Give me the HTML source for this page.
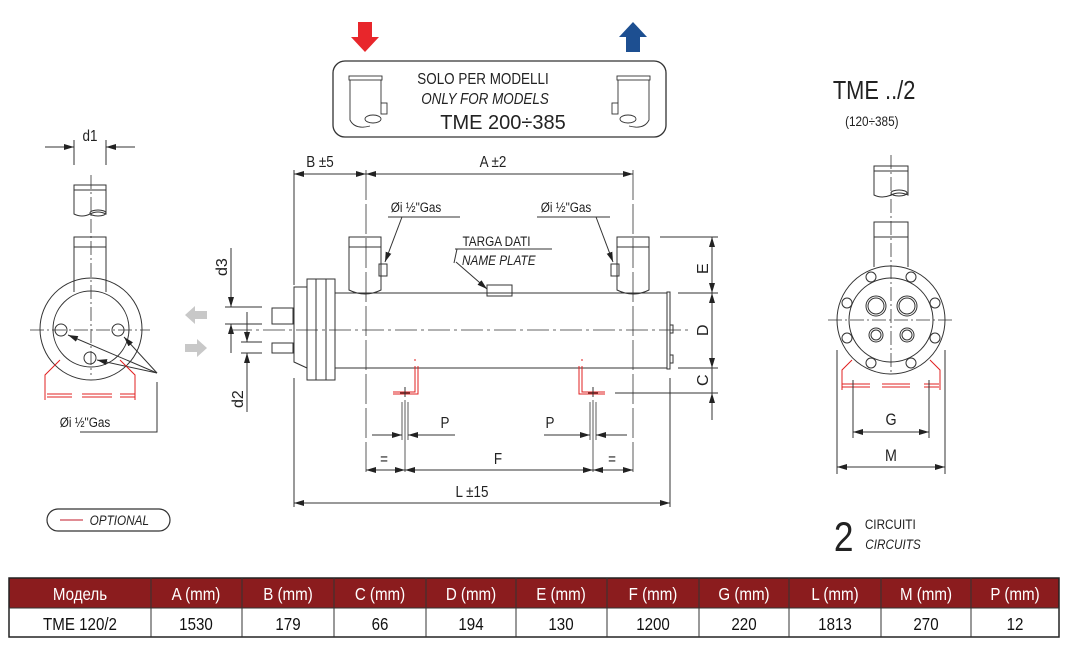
<!DOCTYPE html>
<html><head><meta charset="utf-8"><style>
html,body{margin:0;padding:0;background:#fff;}
svg{display:block;font-family:"Liberation Sans Narrow","Liberation Sans",sans-serif;}
text:not([transform]):not(.w){transform-box:fill-box;transform-origin:center;transform:scaleX(0.84);}
</style></head><body>
<svg width="1071" height="650" viewBox="0 0 1071 650" xmlns="http://www.w3.org/2000/svg">
<defs>
<marker id="ar" viewBox="0 0 10 6" refX="10" refY="3" markerWidth="10" markerHeight="6" orient="auto-start-reverse" markerUnits="userSpaceOnUse"><path d="M0,0 L10,3 L0,6 z" fill="#222"/></marker>
</defs>
<g fill="none" stroke="#333" stroke-width="1">

<path d="M358,22 h14 v15 h7 l-14,15 l-14,-15 h7 z" fill="#e8262b" stroke="none"/>
<path d="M633,22 l14,15 h-7 v15 h-14 v-15 h-7 z" fill="#1d4f91" stroke="none"/>
<rect x="333" y="61" width="333" height="76" rx="12" stroke-width="1.3"/>
<g stroke-width="0.9">
<rect x="349" y="76" width="33" height="4"/><path d="M350,80 v40 q5,10 20,6 M381,80 v23"/><rect x="381" y="103" width="6" height="11"/><ellipse cx="373" cy="119" rx="8" ry="4"/>
<rect x="617" y="76" width="33" height="4"/><path d="M649,80 v40 q-5,10 -20,6 M618,80 v23"/><rect x="612" y="103" width="6" height="11"/><ellipse cx="628" cy="119" rx="8" ry="4"/>
</g>

<!-- LEFT VIEW -->
<rect x="74" y="185" width="32" height="5"/><path d="M74,190 v24 q8,4 16,0 q8,-4 16,0 v-24"/><ellipse cx="98" cy="213" rx="8" ry="3"/>
<rect x="74" y="237" width="32" height="10"/><path d="M74,247 v45 M106,247 v45"/>
<circle cx="91" cy="329" r="51"/><circle cx="91" cy="329" r="38"/>
<circle cx="61" cy="330" r="6"/><circle cx="118" cy="330" r="6"/><circle cx="90" cy="358" r="6"/>
<path d="M91,175 v200 M30,330 h120" stroke-dasharray="14,3,2,3" stroke-width="0.8"/>
<path d="M74,140 v25 M106,140 v25"/>
<line x1="45" y1="147" x2="74" y2="147" marker-end="url(#ar)"/><line x1="135" y1="147" x2="106" y2="147" marker-end="url(#ar)"/>
<path d="M80,432 h77 v-50"/>
<line x1="157" y1="373" x2="68" y2="335" marker-end="url(#ar)"/>
<line x1="157" y1="373" x2="124" y2="337" marker-end="url(#ar)"/>
<line x1="157" y1="373" x2="97" y2="360" marker-end="url(#ar)"/>
<g stroke="#e02020"><path d="M60,360 l-15,15 v25 M120,360 l15,15 v25"/><path d="M47,394 h25 M47,397 h25 M82,394 h30 M82,397 h30 M120,394 h15 M120,397 h15"/></g>

<path d="M185,315 l10,-9 v5 h12 v8 h-12 v5 z" fill="#c8c8c8" stroke="none"/>
<path d="M207,348 l-10,-9 v5 h-12 v8 h12 v5 z" fill="#c8c8c8" stroke="none"/>

<path d="M225,307 h37 M225,324 h37 M241,342 h21 M241,353 h21"/>
<line x1="231" y1="248" x2="231" y2="307" marker-end="url(#ar)"/>
<line x1="231" y1="353" x2="231" y2="324" marker-end="url(#ar)"/>
<line x1="247" y1="312" x2="247" y2="342" marker-end="url(#ar)"/>
<line x1="247" y1="412" x2="247" y2="353" marker-end="url(#ar)"/>

<!-- MAIN VIEW -->
<rect x="272" y="308" width="21" height="16"/><rect x="272" y="343" width="21" height="10"/>
<path d="M307,287 h-13 v75 l13,6"/>
<rect x="307" y="279" width="28" height="101"/><path d="M316,279 v101 M326,279 v101"/>
<path d="M335,293 H667 V368 H335"/>
<rect x="667" y="292" width="3" height="77"/>
<rect x="670" y="325" width="3" height="8"/><rect x="670" y="355" width="3" height="8"/>
<rect x="349" y="237" width="32" height="10"/><path d="M349,247 v43 q16,8 32,0 v-43"/>
<rect x="617" y="237" width="32" height="10"/><path d="M617,247 v43 q16,8 32,0 v-43"/>
<rect x="379" y="264" width="8" height="12"/><rect x="611" y="264" width="8" height="12"/>
<rect x="487" y="285" width="25" height="11"/>
<path d="M230,330 H690" stroke-dasharray="22,4,3,4" stroke-width="0.8"/>
<path d="M366,170 V475 M633,170 V475" stroke-dasharray="30,4" stroke-width="0.8"/>
<path d="M294,170 V285 M294,378 V507 M670,378 V507"/>
<line x1="294" y1="174" x2="366" y2="174" marker-start="url(#ar)" marker-end="url(#ar)"/>
<line x1="366" y1="174" x2="633" y2="174" marker-start="url(#ar)" marker-end="url(#ar)"/>
<path d="M388,217 h72 M537,217 h73 M455,249 h97"/>
<line x1="402" y1="217" x2="385" y2="262" marker-end="url(#ar)"/>
<line x1="596" y1="217" x2="613" y2="262" marker-end="url(#ar)"/>
<path d="M457,249 l-3,14"/><line x1="456" y1="262" x2="487" y2="289" marker-end="url(#ar)"/>
<path d="M660,237 h58 M678,293 h40 M678,368 h40 M615,393 h103"/>
<line x1="712" y1="237" x2="712" y2="293" marker-start="url(#ar)" marker-end="url(#ar)"/>
<line x1="712" y1="293" x2="712" y2="368" marker-start="url(#ar)" marker-end="url(#ar)"/>
<line x1="712" y1="420" x2="712" y2="393" marker-end="url(#ar)"/>
<line x1="712" y1="368" x2="712" y2="393"/>
<g stroke="#e02020"><path d="M415,359 v2 M415,366 v26 h-22 M418,366 v28 h-25 M582,359 v2 M582,366 v26 h23 M579,366 v28 h26"/></g>
<path d="M405,387 v10 M400,393 h10 M593,387 v10 M588,393 h10"/>
<g stroke-width="0.8"><path d="M402,402 v38 M408,402 v38 M405,400 v72 M590,402 v38 M596,402 v38 M593,400 v72"/></g>
<line x1="372" y1="435" x2="402" y2="435" marker-end="url(#ar)"/>
<line x1="455" y1="435" x2="408" y2="435" marker-end="url(#ar)"/>
<line x1="544" y1="435" x2="590" y2="435" marker-end="url(#ar)"/>
<line x1="627" y1="435" x2="596" y2="435" marker-end="url(#ar)"/>
<line x1="366" y1="470" x2="405" y2="470" marker-start="url(#ar)" marker-end="url(#ar)"/>
<line x1="405" y1="470" x2="593" y2="470" marker-start="url(#ar)" marker-end="url(#ar)"/>
<line x1="593" y1="470" x2="633" y2="470" marker-start="url(#ar)" marker-end="url(#ar)"/>
<line x1="294" y1="503" x2="670" y2="503" marker-start="url(#ar)" marker-end="url(#ar)"/>

<!-- RIGHT VIEW -->
<rect x="874" y="166" width="34" height="5"/><path d="M874,171 v24 q8,4 17,0 q8,-4 17,0 v-24"/><ellipse cx="899" cy="193" rx="8" ry="3"/>
<rect x="874" y="222" width="34" height="15"/><path d="M874,237 v30 M908,237 v30"/>
<circle cx="891" cy="320" r="54"/><circle cx="891" cy="320" r="42"/>
<g>
<circle cx="871" cy="277" r="5"/><circle cx="911" cy="277" r="5"/><circle cx="847" cy="303" r="5"/><circle cx="935" cy="303" r="5"/>
<circle cx="847" cy="338" r="5"/><circle cx="935" cy="338" r="5"/><circle cx="871" cy="363" r="5"/><circle cx="911" cy="363" r="5"/>
<circle cx="876" cy="306" r="10"/><circle cx="876" cy="306" r="8"/><circle cx="907" cy="306" r="10"/><circle cx="907" cy="306" r="8"/>
<circle cx="876" cy="335" r="7"/><circle cx="876" cy="335" r="5"/><circle cx="907" cy="335" r="7"/><circle cx="907" cy="335" r="5"/>
</g>
<path d="M891,155 V375 M828,320 H955" stroke-dasharray="14,3,2,3" stroke-width="0.8"/>
<g stroke="#e02020"><path d="M852,360 l-10,10 v20 M930,360 l10,10 v20"/><path d="M842,384 h28 M842,387 h28 M882,384 h28 M882,387 h28 M924,384 h15 M924,387 h15"/></g>
<path d="M853,380 v58 M929,380 v58 M837,350 v124 M945,350 v124"/>
<line x1="853" y1="432" x2="929" y2="432" marker-start="url(#ar)" marker-end="url(#ar)"/>
<line x1="837" y1="467" x2="945" y2="467" marker-start="url(#ar)" marker-end="url(#ar)"/>

<rect x="47" y="509" width="123" height="22" rx="11" stroke-width="1.2"/>
<path d="M60,520 h23" stroke="#c0182a"/>

<rect x="9" y="578" width="1050" height="30" fill="#8b1c1e" stroke="none"/>
<rect x="9" y="578" width="1050" height="59" stroke="#222" stroke-width="1.5"/>
<path d="M9,608 H1059 M151,578 V637 M242,578 V637 M334,578 V637 M426,578 V637 M516,578 V637 M607,578 V637 M699,578 V637 M789,578 V637 M881,578 V637 M971,578 V637" stroke="#333"/>
</g>

<g fill="#222" font-size="15">
<text x="483" y="84" text-anchor="middle" font-size="16">SOLO PER MODELLI</text>
<text x="485" y="104" text-anchor="middle" font-size="16" font-style="italic">ONLY FOR MODELS</text>
<text class="w" x="503" y="129" text-anchor="middle" font-size="20" font-family="Liberation Sans, sans-serif">TME 200÷385</text>
<text x="90" y="141" text-anchor="middle" font-size="16">d1</text>
<text x="85" y="427" font-size="14" text-anchor="middle">Øi ½"Gas</text>
<text transform="translate(227,276) rotate(-90)" font-size="16">d3</text>
<text transform="translate(243,408) rotate(-90)" font-size="16">d2</text>
<text x="320" y="167" text-anchor="middle" font-size="16">B ±5</text>
<text x="493" y="167" text-anchor="middle" font-size="16">A ±2</text>
<text x="386" y="212" font-size="14">Øi ½"Gas</text>
<text x="536" y="212" font-size="14">Øi ½"Gas</text>
<text x="456" y="246" font-size="14">TARGA DATI</text>
<text x="455" y="265" font-size="14" font-style="italic">NAME PLATE</text>
<text transform="translate(708,274) rotate(-90)" font-size="16">E</text>
<text transform="translate(708,336) rotate(-90)" font-size="16">D</text>
<text transform="translate(708,386) rotate(-90)" font-size="16">C</text>
<text x="445" y="428" text-anchor="middle" font-size="16">P</text>
<text x="550" y="428" text-anchor="middle" font-size="16">P</text>
<text x="384" y="464" text-anchor="middle" font-size="16">=</text>
<text x="498" y="464" text-anchor="middle" font-size="16">F</text>
<text x="612" y="464" text-anchor="middle" font-size="16">=</text>
<text x="472" y="497" text-anchor="middle" font-size="16">L ±15</text>
<text x="825" y="99" font-size="26">TME ../2</text>
<text x="840" y="126" font-size="14">(120÷385)</text>
<text x="891" y="425" text-anchor="middle" font-size="17">G</text>
<text x="891" y="461" text-anchor="middle" font-size="17">M</text>
<text x="832" y="551" font-size="42">2</text>
<text x="860" y="529" font-size="14">CIRCUITI</text>
<text x="860" y="549" font-size="14" font-style="italic">CIRCUITS</text>
<text x="84" y="525" font-size="14" font-style="italic">OPTIONAL</text>
</g>
<g font-size="18" text-anchor="middle" fill="#fff">
<text x="80" y="600">Модель</text><text x="196" y="600">A (mm)</text><text x="288" y="600">B (mm)</text><text x="380" y="600">C (mm)</text><text x="471" y="600">D (mm)</text><text x="561" y="600">E (mm)</text><text x="653" y="600">F (mm)</text><text x="744" y="600">G (mm)</text><text x="835" y="600">L (mm)</text><text x="926" y="600">M (mm)</text><text x="1015" y="600">P (mm)</text>
</g>
<g font-size="18" text-anchor="middle" fill="#111">
<text x="80" y="630">TME 120/2</text><text x="196" y="630">1530</text><text x="288" y="630">179</text><text x="380" y="630">66</text><text x="471" y="630">194</text><text x="561" y="630">130</text><text x="653" y="630">1200</text><text x="744" y="630">220</text><text x="835" y="630">1813</text><text x="926" y="630">270</text><text x="1015" y="630">12</text>
</g>
</svg>
</body></html>
